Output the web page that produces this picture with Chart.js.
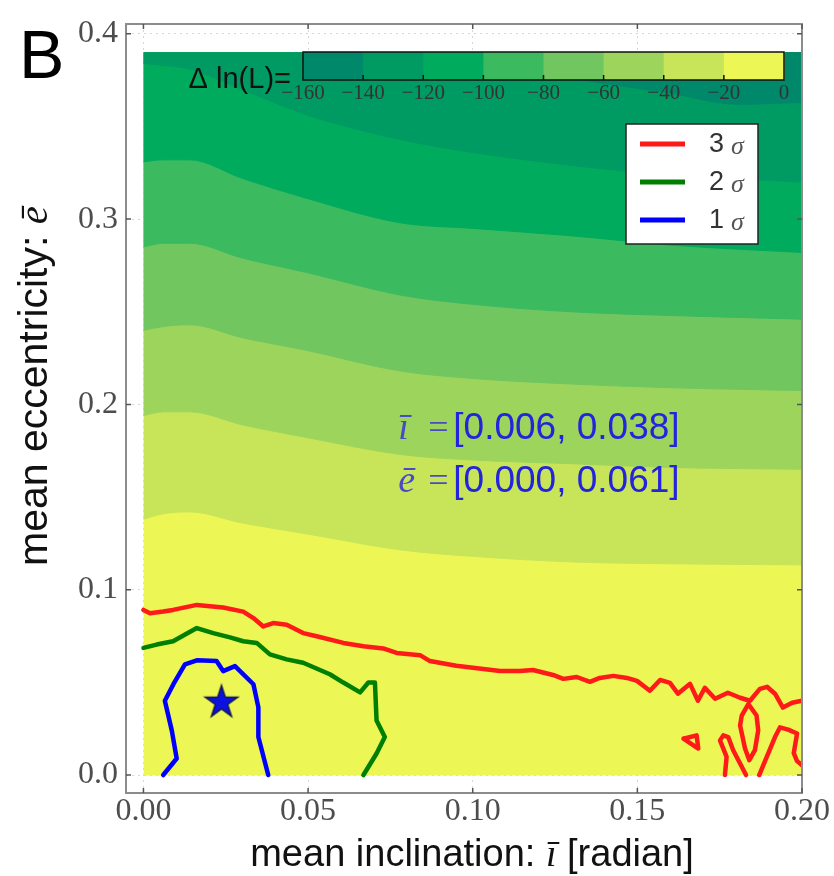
<!DOCTYPE html>
<html lang="en">
<head>
<meta charset="UTF-8">
<title>Mean inclination vs mean eccentricity</title>
<script src="https://cdn.jsdelivr.net/npm/chart.js"></script>
<style>
  html, body { margin: 0; padding: 0; background: #fff; }
</style>
</head>
<body>
<canvas id="likeChart" width="834" height="876"></canvas>
<script>
    // Delta ln(L) colour levels and their band colours (low -> high)
    const levels = [-160, -140, -120, -100, -80, -60, -40, -20, 0];
    const bandColors = ['#00886a', '#009a63', '#00ab5d', '#3bba60', '#72c660', '#9dd55c', '#c8e55a', '#ecf756'];

    // level boundaries (x = mean inclination)
    const bandX   = [0, 0.006, 0.014, 0.03, 0.05, 0.078, 0.1, 0.13, 0.16, 0.2];
    const edge20  = [0.138, 0.141, 0.142, 0.136, 0.130, 0.1215, 0.118, 0.115, 0.114, 0.1134];
    const edge40  = [0.194, 0.196, 0.196, 0.189, 0.182, 0.173, 0.170, 0.168, 0.166, 0.165];
    const edge60  = [0.240, 0.242, 0.243, 0.236, 0.229, 0.218, 0.214, 0.211, 0.209, 0.2075];
    const edge80  = [0.285, 0.287, 0.287, 0.279, 0.271, 0.259, 0.254, 0.250, 0.248, 0.246];
    const edge100 = [0.331, 0.332, 0.332, 0.322, 0.311, 0.298, 0.295, 0.291, 0.286, 0.282];
    const edge120 = [0.384, 0.383, 0.381, 0.370, 0.356, 0.343, 0.336, 0.329, 0.324, 0.320];
    const edge140X = [0.09, 0.13, 0.16, 0.18, 0.2];
    const edge140  = [0.39, 0.376, 0.368, 0.362, 0.363];
    const gridTop = 0.39;   // upper edge of the likelihood grid

    // confidence contours [i, e]
    const sigma3Main = [[0,0.0891],[0.002,0.0873],[0.006,0.0882],[0.009,0.0891],[0.0162,0.0918],[0.0242,0.0904],
        [0.0303,0.0882],[0.0334,0.0847],[0.0364,0.0802],[0.0394,0.082],[0.0435,0.0811],[0.0485,0.0766],
        [0.0526,0.0749],[0.0607,0.0713],[0.0668,0.0695],[0.0728,0.0683],[0.0769,0.0659],[0.084,0.0647],
        [0.087,0.0615],[0.095,0.059],[0.1083,0.0561],[0.1143,0.0561],[0.1183,0.0567],[0.1244,0.054],
        [0.1275,0.0519],[0.1316,0.0529],[0.1356,0.0503],[0.1386,0.0524],[0.1427,0.0535],[0.1468,0.0524],
        [0.1499,0.0508],[0.1538,0.0455],[0.1569,0.0513],[0.1599,0.0497],[0.1623,0.0439],[0.166,0.0492],
        [0.1684,0.0401],[0.1705,0.0471],[0.1736,0.0412],[0.1775,0.0444],[0.1812,0.0417],[0.1842,0.0401],
        [0.1872,0.0465],[0.1894,0.0476],[0.1918,0.0439],[0.1942,0.0364],[0.197,0.039],[0.2,0.0401]];
    const sigma3Spindle = [[0.1837,0.0383],[0.1817,0.0321],[0.1812,0.0267],[0.1827,0.0143],[0.184,0.008],
        [0.1857,0.0134],[0.1867,0.0241],[0.1862,0.0321],[0.1837,0.0383]];
    const sigma3Island = [[0.164,0.0196],[0.168,0.0214],[0.1685,0.0143],[0.164,0.0196]];
    const sigma3Arch = [[0.1766,0],[0.1771,0.0098],[0.1751,0.0187],[0.1761,0.0214],[0.1776,0.0205],
        [0.1791,0.0134],[0.1812,0.0062],[0.183,0]];
    const sigma3Edge = [[0.187,0],[0.1893,0.0098],[0.1918,0.0205],[0.1933,0.0257],[0.1958,0.0245],
        [0.1985,0.0224],[0.1975,0.0118],[0.1985,0.0075],[0.2,0.0053]];
    const sigma2 = [[0,0.0686],[0.004,0.0704],[0.009,0.0722],[0.0162,0.0793],[0.0212,0.0766],[0.0263,0.0743],
        [0.0303,0.0722],[0.0344,0.0713],[0.0384,0.0651],[0.0435,0.0624],[0.0485,0.0606],[0.0566,0.0544],
        [0.0607,0.0499],[0.0658,0.0446],[0.0683,0.0499],[0.0703,0.0499],[0.0708,0.0294],[0.0733,0.0205],
        [0.0708,0.0116],[0.0668,0]];
    const sigma1 = [[0.006,0],[0.0101,0.0089],[0.0086,0.0241],[0.0065,0.0401],[0.0091,0.049],[0.0126,0.0597],
        [0.0162,0.0619],[0.0222,0.0615],[0.0242,0.0561],[0.0278,0.0588],[0.0334,0.049],[0.0349,0.0365],
        [0.0349,0.0205],[0.0379,0]];
    const bestFit = [0.0237, 0.0401];

    const sigmaLabels = ['3', '2', '1'];
    const sigmaColors = ['#ff1a1a', '#007f00', '#0000ff'];
    const incInterval = ['0.006', '0.038'];
    const eccInterval = ['0.000', '0.061'];
    const xTicks = [0, 0.05, 0.1, 0.15, 0.2];
    const yTicks = [0, 0.1, 0.2, 0.3, 0.4];

    const pts = (xs, ys) => xs.map((x, k) => ({x: x, y: ys[k]}));
    const pairs = list => list.map(p => ({x: p[0], y: p[1]}));

    // filled bands: painted bottom-up, each one covering everything above its edge
    const bandEdges = [
        pts([0, 0.2], [0, 0]),
        pts(bandX, edge20), pts(bandX, edge40), pts(bandX, edge60),
        pts(bandX, edge80), pts(bandX, edge100), pts(bandX, edge120),
        pts(edge140X, edge140)
    ];
    const datasets = [];
    bandEdges.forEach((edge, k) => {
        const col = bandColors[bandColors.length - 1 - k];
        datasets.push({
            data: edge,
            borderColor: col,
            borderWidth: 1,
            backgroundColor: col,
            fill: {value: gridTop},
            pointRadius: 0,
            cubicInterpolationMode: 'monotone'
        });
    });

    function contour(list, color) {
        return {
            data: pairs(list),
            borderColor: color,
            borderWidth: 4.5,
            borderJoinStyle: 'round',
            borderCapStyle: 'round',
            fill: false,
            pointRadius: 0,
            tension: 0
        };
    }
    [sigma3Main, sigma3Spindle, sigma3Island, sigma3Arch, sigma3Edge].forEach(c => datasets.push(contour(c, sigmaColors[0])));
    datasets.push(contour(sigma2, sigmaColors[1]));
    datasets.push(contour(sigma1, sigmaColors[2]));

    // five-point star for the best fit
    function makeStar(r) {
        const c = document.createElement('canvas');
        const s = Math.ceil(r * 2 + 4);
        c.width = s; c.height = s;
        const g = c.getContext('2d');
        g.translate(s / 2, s / 2 + r * 0.1);
        g.beginPath();
        for (let k = 0; k < 10; k++) {
            const rad = k % 2 ? r * 0.382 : r;
            const ang = -Math.PI / 2 + k * Math.PI / 5;
            g.lineTo(rad * Math.cos(ang), rad * Math.sin(ang));
        }
        g.closePath();
        g.fillStyle = '#0b12e0';
        g.fill();
        g.strokeStyle = '#141450';
        g.lineWidth = 1.5;
        g.stroke();
        return c;
    }
    datasets.push({
        data: [{x: bestFit[0], y: bestFit[1]}],
        showLine: false,
        pointStyle: makeStar(17),
        pointRadius: 17
    });

    // draw first dataset first (lowest layer)
    datasets.forEach((d, k) => { d.order = datasets.length - k; });

    const minus = v => v < 0 ? '\u2212' + (-v) : String(v);

    // text made of plain and math-italic pieces, centred on (cx, base)
    function mixedText(ctx, parts, cx, base) {
        let total = 0;
        parts.forEach(p => { ctx.font = p[1]; total += ctx.measureText(p[0]).width; });
        let px = cx - total / 2;
        ctx.textAlign = 'left';
        ctx.textBaseline = 'alphabetic';
        parts.forEach(p => {
            ctx.font = p[1];
            ctx.fillText(p[0], px, base);
            px += ctx.measureText(p[0]).width;
        });
    }

    const overlay = {
        id: 'overlay',
        afterDraw(chart) {
            const {ctx, chartArea: a, scales: {x, y}} = chart;
            ctx.save();

            // frame with inward ticks
            ctx.strokeStyle = '#8c8c8c';
            ctx.lineWidth = 2;
            ctx.strokeRect(a.left, a.top, a.right - a.left, a.bottom - a.top);
            ctx.strokeStyle = '#555';
            ctx.lineWidth = 1.5;
            ctx.beginPath();
            xTicks.forEach(v => {
                const px = x.getPixelForValue(v);
                ctx.moveTo(px, a.bottom); ctx.lineTo(px, a.bottom - 5);
                ctx.moveTo(px, a.top); ctx.lineTo(px, a.top + 5);
            });
            yTicks.forEach(v => {
                const py = y.getPixelForValue(v);
                ctx.moveTo(a.left, py); ctx.lineTo(a.left + 5, py);
                ctx.moveTo(a.right, py); ctx.lineTo(a.right - 5, py);
            });
            ctx.stroke();

            // axis titles
            ctx.fillStyle = '#111';
            const sans = '38px "Liberation Sans"';
            const mathIt = 'italic 38px "Liberation Serif"';
            mixedText(ctx, [['mean inclination: ', sans], ['\u012b', mathIt], [' [radian]', sans]],
                (a.left + a.right) / 2 + 8, 866);
            ctx.save();
            ctx.translate(47, 386);
            ctx.rotate(-Math.PI / 2);
            mixedText(ctx, [['mean eccentricity: ', '41px "Liberation Sans"'], ['\u0113', 'italic 41px "Liberation Serif"']], 0, 0);
            ctx.restore();

            // colour bar
            const cb = {left: a.left + 177, top: a.top + 28, w: 481, h: 28};
            const n = bandColors.length;
            bandColors.forEach((c, k) => {
                ctx.fillStyle = c;
                ctx.fillRect(cb.left + cb.w * k / n, cb.top, cb.w / n + 0.5, cb.h);
            });
            ctx.strokeStyle = '#111';
            ctx.lineWidth = 1.5;
            ctx.strokeRect(cb.left, cb.top, cb.w, cb.h);
            ctx.beginPath();
            for (let k = 1; k < n; k++) {
                const px = cb.left + cb.w * k / n;
                ctx.moveTo(px, cb.top + cb.h); ctx.lineTo(px, cb.top + cb.h - 5);
            }
            ctx.stroke();
            ctx.fillStyle = '#333';
            ctx.font = '21px "Liberation Serif"';
            ctx.textAlign = 'center';
            ctx.textBaseline = 'top';
            levels.forEach((v, k) => {
                ctx.fillText(minus(v), cb.left + cb.w * k / n, cb.top + cb.h + 3);
            });
            ctx.fillStyle = '#111';
            ctx.font = '29px "Liberation Sans"';
            ctx.textAlign = 'right';
            ctx.textBaseline = 'alphabetic';
            ctx.fillText('\u0394 ln(L)=', cb.left - 12, cb.top + 36);

            // legend
            const lg = {left: a.left + 500, top: a.top + 100, w: 132, h: 120};
            ctx.fillStyle = '#fff';
            ctx.fillRect(lg.left, lg.top, lg.w, lg.h);
            ctx.strokeStyle = '#222';
            ctx.lineWidth = 1.5;
            ctx.strokeRect(lg.left, lg.top, lg.w, lg.h);
            sigmaLabels.forEach((lab, k) => {
                const ly = lg.top + 20 + 38 * k;
                ctx.strokeStyle = sigmaColors[k];
                ctx.lineWidth = 5;
                ctx.beginPath();
                ctx.moveTo(lg.left + 14, ly); ctx.lineTo(lg.left + 59, ly);
                ctx.stroke();
                ctx.fillStyle = '#333';
                ctx.textAlign = 'left';
                ctx.textBaseline = 'middle';
                ctx.font = '27px "Liberation Sans"';
                ctx.fillText(lab, lg.left + 83, ly + 1);
                ctx.fillStyle = '#555';
                ctx.font = 'italic 26px "Liberation Serif"';
                ctx.fillText('\u03c3', lg.left + 105, ly + 3);
            });

            // credible intervals
            const rows = [['\u012b', incInterval], ['\u0113', eccInterval]];
            rows.forEach((r, k) => {
                const bx = x.getPixelForValue(0.0774);
                const by = y.getPixelForValue(0.1813) + k * 53;
                ctx.textAlign = 'left';
                ctx.textBaseline = 'alphabetic';
                ctx.fillStyle = '#4a4ac4';
                ctx.font = 'italic 38px "Liberation Serif"';
                ctx.fillText(r[0], bx, by);
                ctx.font = '36px "Liberation Serif"';
                ctx.fillText('=', bx + 30, by);
                ctx.fillStyle = '#2424dc';
                ctx.font = '37px "Liberation Sans"';
                ctx.fillText('[' + r[1][0] + ', ' + r[1][1] + ']', bx + 55, by);
            });

            // panel letter
            ctx.fillStyle = '#000';
            ctx.font = '68px "Liberation Sans"';
            ctx.textAlign = 'left';
            ctx.textBaseline = 'alphabetic';
            ctx.fillText('B', 19, 78);
            ctx.restore();
        }
    };

    const tickFont = {family: 'Liberation Serif', size: 32, lineHeight: 1};
    const gridOpts = {color: 'rgba(0,0,0,0.16)', lineWidth: 1, drawTicks: false};

    const ctx = document.getElementById('likeChart').getContext('2d');
    const chart = new Chart(ctx, {
        type: 'line',
        data: {datasets: datasets},
        options: {
            responsive: false,
            animation: false,
            layout: {padding: {top: 17, right: 32, left: 0, bottom: 0}},
            plugins: {
                legend: {display: false},
                tooltip: {enabled: false},
                filler: {drawTime: 'beforeDatasetDraw'}
            },
            scales: {
                x: {
                    type: 'linear',
                    min: -0.0053,
                    max: 0.2,
                    z: 1,
                    afterBuildTicks: s => { s.ticks = xTicks.map(v => ({value: v})); },
                    afterFit: s => { s.height = 83; },
                    grid: gridOpts,
                    border: {display: false, dash: [2, 4]},
                    ticks: {
                        font: tickFont,
                        color: '#4d4d4d',
                        padding: 3,
                        maxRotation: 0,
                        callback: v => v.toFixed(2)
                    }
                },
                y: {
                    type: 'linear',
                    min: -0.0097,
                    max: 0.4053,
                    z: 1,
                    afterBuildTicks: s => { s.ticks = yTicks.map(v => ({value: v})); },
                    afterFit: s => { s.width = 126; },
                    grid: gridOpts,
                    border: {display: false, dash: [2, 4]},
                    ticks: {
                        font: tickFont,
                        color: '#4d4d4d',
                        padding: 8,
                        callback: v => v.toFixed(1)
                    }
                }
            }
        },
        plugins: [overlay]
    });
</script>
</body>
</html>
